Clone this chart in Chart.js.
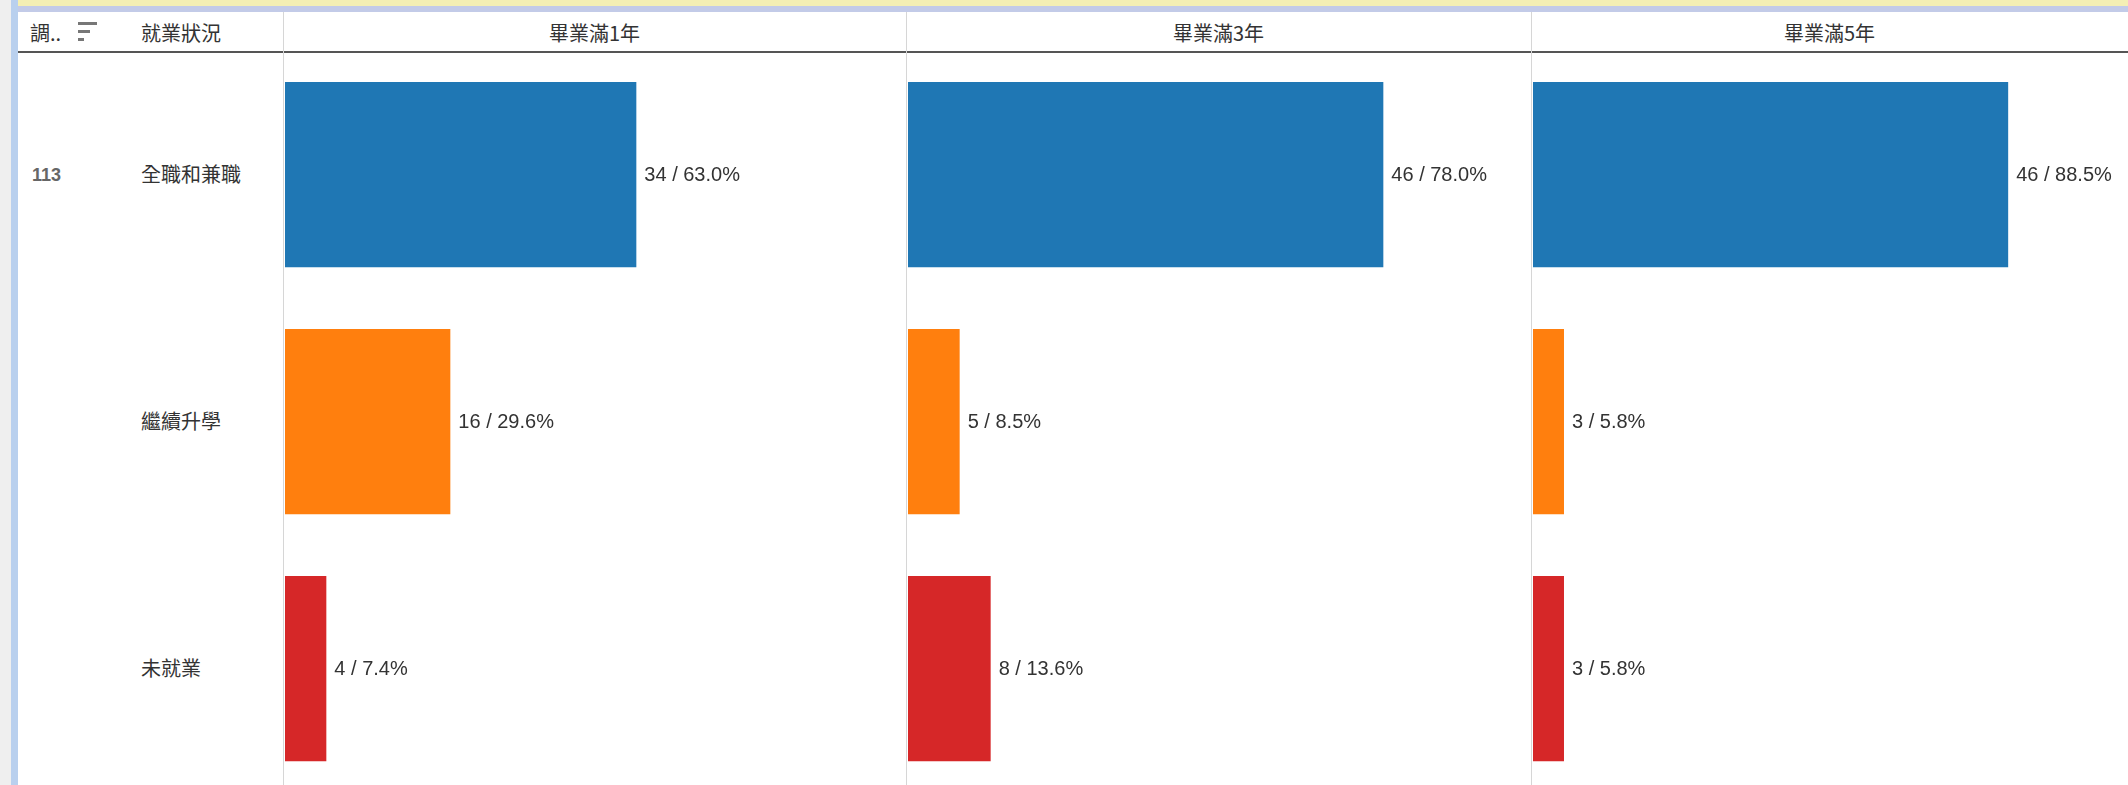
<!DOCTYPE html>
<html>
<head>
<meta charset="utf-8">
<script src="https://cdn.jsdelivr.net/npm/chart.js@4"></script>
<style>
  html, body { margin: 0; padding: 0; width: 2128px; height: 785px; overflow: hidden; background: #fff; }
  body { position: relative; font-family: "Noto Sans CJK TC", "Liberation Sans", Arial, sans-serif; color: #333; }
  .abs { position: absolute; }
  .txt { position: absolute; font-size: 20px; line-height: 24px; white-space: nowrap; }
  .vline { position: absolute; top: 12px; width: 1px; height: 773px; background: #d6d6d6; }
  .pane { position: absolute; top: 51px; }
</style>
</head>
<body>
<div class="abs" style="left:0;top:0;width:11px;height:785px;background:#efefef"></div>
<div class="abs" style="left:11px;top:0;width:7px;height:785px;background:#b9d0ee"></div>
<div class="abs" style="left:18px;top:0;width:2110px;height:6px;background:#f4efb4"></div>
<div class="abs" style="left:18px;top:6px;width:2110px;height:6px;background:#c3cbe8"></div>

<div class="txt" style="left:30px;top:21px">調..</div>
<div class="abs" style="left:78px;top:22px;width:19px;height:3px;background:#777"></div>
<div class="abs" style="left:78px;top:30px;width:12px;height:3px;background:#777"></div>
<div class="abs" style="left:78px;top:38px;width:6px;height:3px;background:#777"></div>
<div class="txt" style="left:141px;top:21px">就業狀況</div>
<div id="headers"></div>
<div class="abs" style="left:18px;top:51px;width:2110px;height:2px;background:#555"></div>

<div class="txt" style="left:32px;top:163px;font-family:'Liberation Sans',Arial,sans-serif;font-size:18px;font-weight:bold;color:#666">113</div>
<div id="rowLabels"></div>

<div class="vline" style="left:283px"></div>
<div class="vline" style="left:906px"></div>
<div class="vline" style="left:1531px"></div>

<div class="pane" style="left:285px"><canvas id="c1" width="620" height="741"></canvas></div>
<div class="pane" style="left:908px"><canvas id="c2" width="620" height="741"></canvas></div>
<div class="pane" style="left:1533px"><canvas id="c3" width="595" height="741"></canvas></div>

<script>
// data
var categories = ['全職和兼職', '繼續升學', '未就業'];
var periods = ['畢業滿1年', '畢業滿3年', '畢業滿5年'];
var counts1 = [34, 16, 4];
var pct1 = [63.0, 29.6, 7.4];
var counts3 = [46, 5, 8];
var pct3 = [78.0, 8.5, 13.6];
var counts5 = [46, 3, 3];
var pct5 = [88.5, 5.8, 5.8];
var barColors = ['#1f77b4', '#ff7f0e', '#d62728'];

// header + row labels
var paneLefts = [283, 906, 1531];
var paneRights = [906, 1531, 2128];
var headHtml = '';
periods.forEach(function (p, i) {
  var mid = (paneLefts[i] + paneRights[i]) / 2;
  headHtml += '<div class="txt" style="left:' + (mid - 150) + 'px;width:300px;text-align:center;top:21px">' + p + '</div>';
});
document.getElementById('headers').innerHTML = headHtml;

var rowCenters = [174, 421, 668];
var rowHtml = '';
categories.forEach(function (c, i) {
  rowHtml += '<div class="txt" style="left:141px;top:' + (rowCenters[i] - 12) + 'px">' + c + '</div>';
});
document.getElementById('rowLabels').innerHTML = rowHtml;

// "n / p%" label to the right of each bar
var barLabels = {
  id: 'barLabels',
  afterDatasetsDraw: function (chart) {
    var ctx = chart.ctx;
    var pcts = chart.options.plugins.barLabels.pcts;
    ctx.save();
    ctx.font = '20px "Liberation Sans", Arial, sans-serif';
    ctx.fillStyle = '#333';
    ctx.textBaseline = 'middle';
    chart.getDatasetMeta(0).data.forEach(function (bar, i) {
      var v = chart.data.datasets[0].data[i];
      ctx.fillText(v + ' / ' + pcts[i].toFixed(1) + '%', bar.x + 8, bar.y + 1);
    });
    ctx.restore();
  }
};

function makeChart(id, counts, pcts, xmax) {
  return new Chart(document.getElementById(id), {
    type: 'bar',
    data: {
      labels: categories,
      datasets: [{
        data: counts,
        backgroundColor: barColors,
        borderWidth: 0,
        categoryPercentage: 1,
        barPercentage: 0.75
      }]
    },
    options: {
      indexAxis: 'y',
      responsive: false,
      animation: false,
      layout: { padding: 0 },
      scales: {
        x: { display: false, min: 0, max: xmax },
        y: { display: false }
      },
      plugins: {
        legend: { display: false },
        tooltip: { enabled: false },
        barLabels: { pcts: pcts }
      }
    },
    plugins: [barLabels]
  });
}

makeChart('c1', counts1, pct1, 60);
makeChart('c2', counts3, pct3, 60);
makeChart('c3', counts5, pct5, 57.6);
</script>
</body>
</html>
